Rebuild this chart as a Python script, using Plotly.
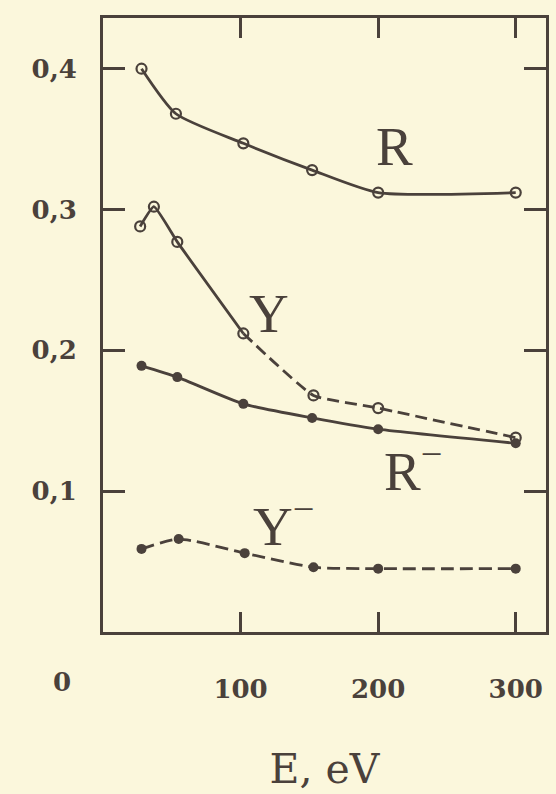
import plotly.graph_objects as go

# Energy values (eV) for each measured point
E_R = [28, 53, 102, 152, 200, 300]
R = [0.400, 0.368, 0.347, 0.328, 0.312, 0.312]

E_Y = [27, 37, 54, 102, 153, 200, 300]
Y = [0.288, 0.302, 0.277, 0.212, 0.168, 0.159, 0.138]

E_Rm = [28, 54, 102, 152, 200, 300]
R_minus = [0.189, 0.181, 0.162, 0.152, 0.144, 0.134]

E_Ym = [28, 55, 103, 153, 200, 300]
Y_minus = [0.059, 0.066, 0.056, 0.046, 0.045, 0.045]

x_ticks = [100, 200, 300]
x_ticktext = ["100", "200", "300"]
y_ticks = [0.1, 0.2, 0.3, 0.4]
y_ticktext = ["0,1", "0,2", "0,3", "0,4"]

BG = "#fbf7dc"
INK = "#4a413b"
SERIF = "Liberation Serif, DejaVu Serif, serif"
WIDE = "DejaVu Serif, serif"

open_marker = dict(symbol="circle-open", size=10, color=INK, line=dict(width=2.2, color=INK))
filled_marker = dict(symbol="circle", size=10, color=INK)

fig = go.Figure()

# R : open circles, solid line
fig.add_trace(go.Scatter(x=E_R, y=R, mode="lines+markers",
                         line=dict(color=INK, width=2.8, shape="spline", smoothing=0.6),
                         marker=open_marker))
# Y : open circles, solid then dashed
k = 4
fig.add_trace(go.Scatter(x=E_Y[:k], y=Y[:k], mode="lines",
                         line=dict(color=INK, width=2.8, shape="spline", smoothing=0.4)))
fig.add_trace(go.Scatter(x=E_Y[k - 1:], y=Y[k - 1:], mode="lines",
                         line=dict(color=INK, width=2.8, dash="12px,6px", shape="spline", smoothing=0.4)))
fig.add_trace(go.Scatter(x=E_Y, y=Y, mode="markers", marker=open_marker))
# R- : filled circles, solid
fig.add_trace(go.Scatter(x=E_Rm, y=R_minus, mode="lines+markers",
                         line=dict(color=INK, width=2.8, shape="spline", smoothing=0.6),
                         marker=filled_marker))
# Y- : filled circles, dashed
fig.add_trace(go.Scatter(x=E_Ym, y=Y_minus, mode="lines+markers",
                         line=dict(color=INK, width=2.8, dash="13px,6px", shape="spline", smoothing=0.6),
                         marker=filled_marker))

label_font = dict(family=SERIF, size=55, color=INK)
annotations = [
    dict(x=212, y=0.345, text="R"),
    dict(x=121, y=0.226, text="Y"),
    dict(x=225, y=0.117, text="R<sup>−</sup>"),
    dict(x=131, y=0.078, text="Y<sup>−</sup>"),
]
for a in annotations:
    a.update(xref="x", yref="y", showarrow=False, font=label_font, xanchor="center", yanchor="middle")

# lone "0" label of the energy axis, printed left of the frame
annotations.append(dict(x=-0.092, y=-0.081, xref="x domain", yref="y domain", showarrow=False,
                        text="0", font=dict(family=WIDE, size=26, color=INK, weight="bold"),
                        xanchor="center", yanchor="middle"))

fig.update_layout(
    width=556, height=794,
    margin=dict(l=103, r=7, t=18, b=162),
    paper_bgcolor=BG, plot_bgcolor=BG,
    showlegend=False,
    annotations=annotations,
)
fig.update_xaxes(
    range=[0, 322], tickvals=x_ticks, ticktext=x_ticktext,
    showgrid=False, zeroline=False,
    showline=True, linecolor=INK, linewidth=3, mirror="allticks",
    ticks="inside", ticklen=20, tickwidth=2.5, tickcolor=INK,
    ticklabelstandoff=32,
    tickfont=dict(family=WIDE, size=26, color=INK, weight="bold"),
    title=dict(text="E, eV", font=dict(family=WIDE, size=41, color=INK), standoff=52),
)
fig.update_yaxes(
    range=[0, 0.436], tickvals=y_ticks, ticktext=y_ticktext,
    showgrid=False, zeroline=False,
    showline=True, linecolor=INK, linewidth=3, mirror="allticks",
    ticks="inside", ticklen=22, tickwidth=2.5, tickcolor=INK,
    ticklabelstandoff=18,
    tickfont=dict(family=WIDE, size=26, color=INK, weight="bold"),
)

fig.write_html("out.html")
